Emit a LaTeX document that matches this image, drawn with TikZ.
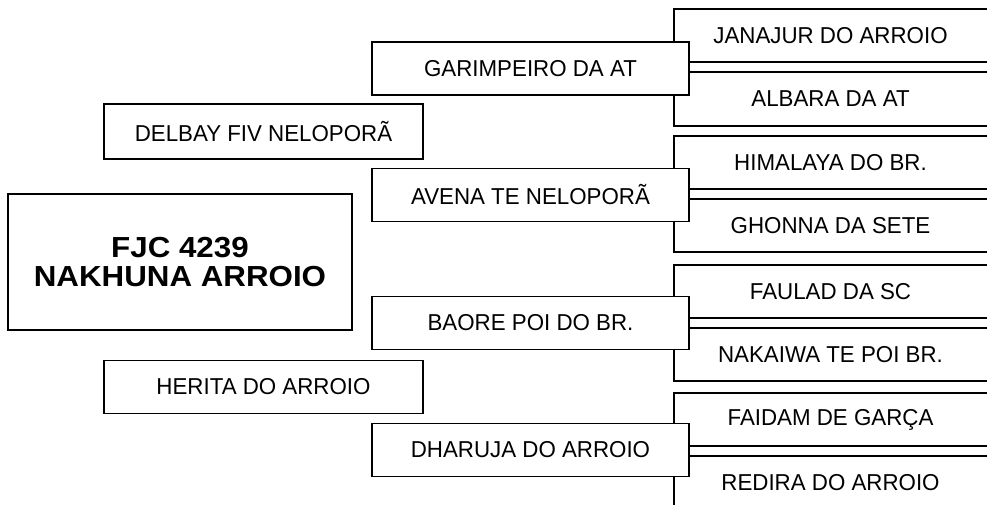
\documentclass[tikz,border=0pt]{standalone}
\usepackage{fontspec}
\setmainfont{Liberation Sans}[FakeStretch=0.97, BoldFeatures={FakeStretch=1.08}]
\begin{document}
\begin{tikzpicture}[
    x=1pt, y=-1pt,
    font=\fontsize{23}{26}\selectfont,
    bx/.style={draw, rectangle, line width=1.8pt, fill=white, inner sep=0pt},
    sire/.style={bx, minimum width=317pt, minimum height=53pt},
    grand/.style={bx, minimum width=319pt, minimum height=55pt},
    anc/.style={rectangle, inner sep=0pt, minimum width=313pt, minimum height=53pt},
    side/.style={line width=1.8pt}
  ]
    \useasboundingbox[fill=white] (0,0) rectangle (987,504);

    %% --- Right column (open boxes) ---
    \node[anc] (a1) at (830.5, 35.5)  {JANAJUR DO ARROIO};
    \node[anc] (a2) at (830.5, 99)    {ALBARA DA AT};
    \node[anc] (a3) at (830.5, 162.5) {HIMALAYA DO BR.};
    \node[anc] (a4) at (830.5, 225.5) {GHONNA DA SETE};
    \node[anc] (a5) at (830.5, 291.5) {FAULAD DA SC};
    \node[anc] (a6) at (830.5, 354.5) {NAKAIWA TE POI BR.};
    \node[anc] (a7) at (830.5, 419.5) {FAIDAM DE GARÇA};
    \node[anc] (a8) at (830.5, 482.5) {REDIRA DO ARROIO};
    \foreach \n in {a1,a2,a3,a4,a5,a6,a7,a8}
      \draw[side] (\n.north east) -- (\n.north west) -- (\n.south west) -- (\n.south east);

    %% --- Middle column ---
    \node[sire] (m1) at (530.5, 68.5) {GARIMPEIRO DA AT};
    \node[sire] (m2) at (530.5, 195)  {AVENA TE NELOPORÃ};
    \node[sire] (m3) at (530.5, 323)  {BAORE POI DO BR.};
    \node[sire] (m4) at (530.5, 450)  {DHARUJA DO ARROIO};

    %% --- Left column ---
    \node[grand] (g1) at (263.5, 131.5) {DELBAY FIV NELOPORÃ};
    \node[grand, minimum height=53pt] (g2) at (263.5, 387) {HERITA DO ARROIO};

    \node[bx, minimum width=344pt, minimum height=136pt, align=center,
          font=\bfseries\fontsize{29}{29}\selectfont]
      (subj) at (180, 262) {FJC 4239\\NAKHUNA ARROIO};
  \end{tikzpicture}
\end{document}
